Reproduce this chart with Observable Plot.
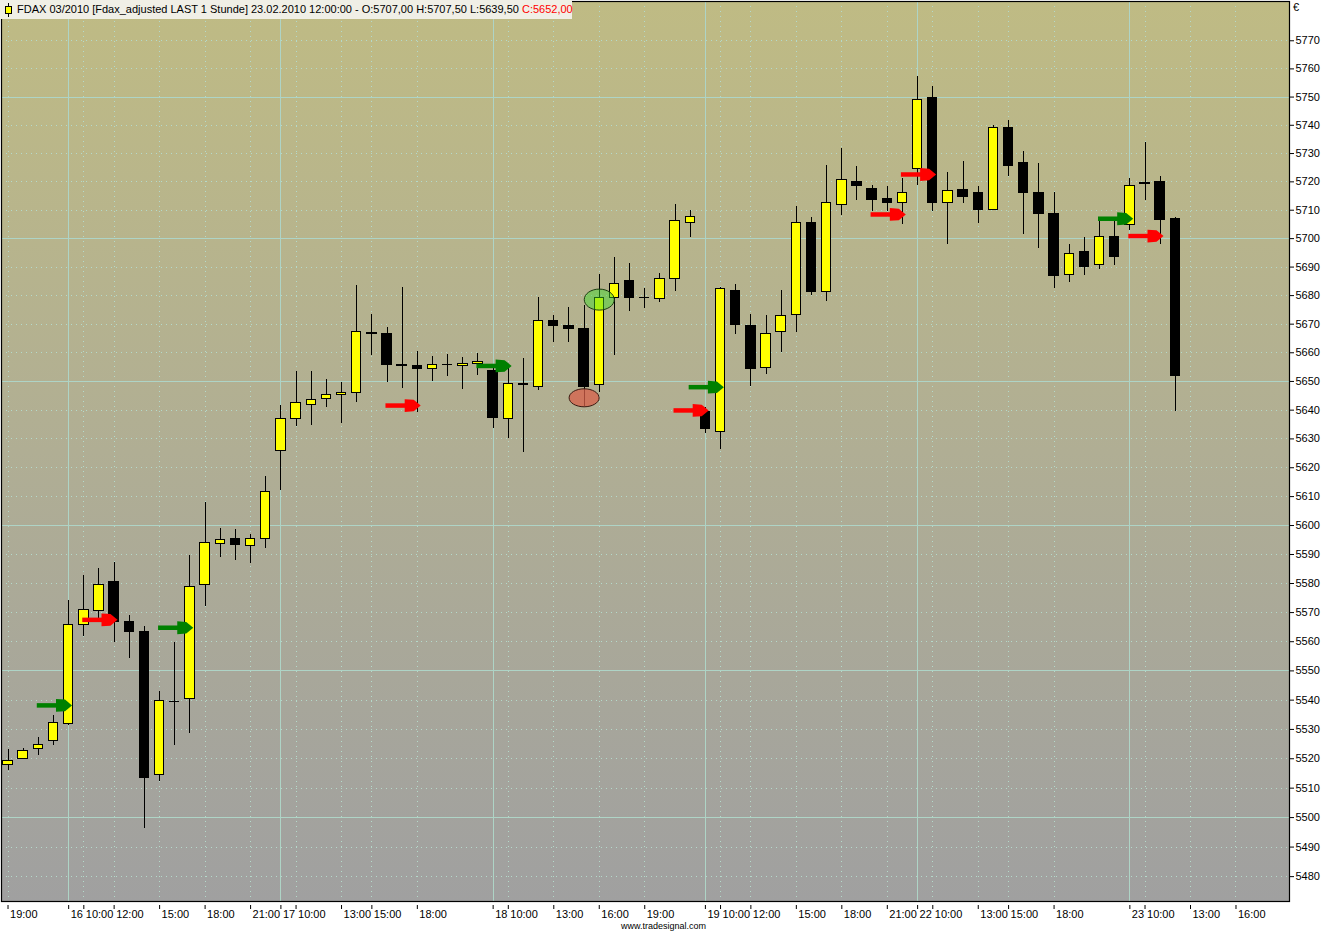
<!DOCTYPE html>
<html><head><meta charset="utf-8">
<script src="https://cdn.jsdelivr.net/npm/d3@7"></script>
<script src="https://cdn.jsdelivr.net/npm/@observablehq/plot@0.6"></script>
<style>
body{margin:0;background:#fff;}
#wrap{position:relative;width:1331px;height:933px;font-family:"Liberation Sans",Arial,sans-serif;color:#000;}
#title{position:absolute;left:0;top:0;height:19px;width:572px;background:#f0efe6;font-size:11px;line-height:19px;white-space:nowrap;}
#title svg{position:absolute;left:4px;top:3px;}
#title span.t{position:absolute;left:17px;top:0;}
#euro{position:absolute;left:1293px;top:1px;font-size:11px;}
#foot{position:absolute;left:621px;top:921px;font-size:9px;}
</style></head>
<body><div id="wrap"></div>
<script>
// ---- data ----
const openVals  = [5518,5520,5523.4,5526.2,5532,5565.8,5570.6,5580.5,5566.9,5563.2,5514.4,5539.5,5540.3,5579.4,5593.5,5595.5,5593,5595.5,
  5625.7,5637,5641.9,5644,5645.4,5646.1,5667,5666.5,5655.6,5655.3,5654.2,5655.9,5655.3,5656,
  5653.6,5636.8,5649,5648.1,5671.1,5669.5,5668.4,5648.6,5679.2,5685,5679.3,5678.7,5685.7,5705.6,
  5639.4,5632.4,5681.7,5669.4,5654.6,5667.3,5673.2,5705.6,5681.2,5711.9,5719.8,5717.6,5713.8,5712.7,
  5724.7,5749.8,5712.4,5717.3,5715.9,5709.9,5739.2,5726.5,5715.9,5708.8,5687.3,5695.3,5690.8,5700.4,
  5704.9,5719.5,5719.8,5707];
const highVals  = [5523.3,5523.6,5527.4,5534.9,5574.1,5582.9,5585.2,5587.3,5569,5565.2,5543.1,5559.8,5589.7,5608,5599,5598.5,5597,5617,
  5641.7,5653.6,5653.3,5650.8,5649.8,5683.5,5673.3,5668.7,5682.7,5660.6,5658.8,5659.3,5658.5,5659.6,
  5655.5,5654.5,5658.1,5679.3,5672.9,5675.8,5676.5,5687.4,5693.3,5691.3,5682.5,5687.6,5712.1,5709.9,
  5641,5682.9,5683.9,5673.4,5673,5681.8,5711.4,5707.4,5725.9,5731.9,5725.5,5718.8,5718.5,5721.2,
  5757.3,5753.8,5723.3,5727.2,5718.5,5739.8,5741.8,5730.8,5726.6,5716.4,5698,5700.4,5705.9,5705.9,
  5721.2,5733.9,5722,5707.5];
const lowVals   = [5516,5519.6,5521,5524.4,5531.5,5561.8,5567.8,5559.9,5554.4,5496.4,5512.2,5524.5,5528.5,5572,5589,5588,5587,5592,
  5612.2,5634.4,5634.7,5641,5635.4,5642.5,5659,5649.5,5647.4,5639.3,5649.9,5651.6,5647.1,5651.9,
  5633.7,5630,5625.2,5647,5663.6,5663.6,5641.3,5646.3,5659,5674.5,5675.6,5677.7,5681.6,5700.5,
  5631.9,5626.3,5666.4,5648.4,5652.3,5660.1,5667.1,5680,5678,5708.2,5713.5,5709.4,5709.4,5704.9,
  5718.8,5709.6,5698.1,5712.4,5705.2,5709.9,5721.8,5701.5,5696.4,5682.6,5684.7,5686.9,5689.3,5690.6,
  5702.7,5713.5,5698.1,5639.5];
const closeVals = [5519.2,5522.6,5524.6,5532.1,5565.8,5570.9,5579.4,5566.7,5563.3,5513.6,5539.6,5539.2,5578.7,5593.8,5595,5593.3,5595.3,5611.5,
  5637,5642.6,5643.7,5645.4,5646.1,5667.3,5666.6,5655.6,5655.3,5654.2,5655.6,5655.7,5656.1,5656.8,
  5637.2,5649,5648.7,5671.1,5669.2,5668.2,5648.1,5679.3,5684.2,5679.1,5679.1,5685.9,5706.3,5707.7,
  5633.3,5682.4,5669.6,5654.5,5666.5,5672.9,5705.6,5681.2,5712.4,5720.8,5718.6,5713.6,5712.6,5715.9,
  5749.1,5712.7,5716.8,5714.7,5710.1,5739.2,5725.6,5716.1,5708.7,5686.9,5694.6,5690,5700.4,5693.5,
  5718.6,5719.3,5706.6,5652];

// bar index of each time-axis tick and its label
const tickIdx    = [0,4,5,7,10,13,16,18,19,22,24,27,32,33,36,39,42,46,47,49,52,55,58,60,61,64,66,69,74,75,78,81];
const tickLabels = ["19:00","16","10:00","12:00","15:00","18:00","21:00","17","10:00","13:00","15:00","18:00",
  "18","10:00","13:00","16:00","19:00","19","10:00","12:00","15:00","18:00","21:00","22","10:00","13:00","15:00","18:00",
  "23","10:00","13:00","16:00"];

// signal arrows
const arrowIdx   = [4,7,12,27,33,46,47,59,61,74,76];
const arrowPrice = [5538.2,5567.5,5564.8,5641.6,5655.4,5639.9,5648,5708.5,5722.6,5707,5700.9];
const arrowSide  = ["buy","sell","buy","sell","buy","sell","buy","sell","sell","buy","sell"];

// highlighted bars (ellipses)
const markIdx   = [38,39];
const markPrice = [5644.3,5678.6];
const markSide  = ["low","high"];

const yTicks = d3.range(5480, 5771, 10);

// ---- derived tables ----
const candles = openVals.map((o, i) => ({i, open: o, high: highVals[i], low: lowVals[i], close: closeVals[i]}));
const upBars = candles.filter(d => d.close >= d.open);
const downBars = candles.filter(d => d.close < d.open);
const ticks = tickIdx.map((i, k) => ({i, label: tickLabels[k], day: /^\d+$/.test(tickLabels[k])}));
const arrows = arrowIdx.map((i, k) => ({i, price: arrowPrice[k], side: arrowSide[k]}));
const buys = arrows.filter(d => d.side === "buy");
const sells = arrows.filter(d => d.side === "sell");
const marks = markIdx.map((i, k) => ({i, price: markPrice[k], side: markSide[k]}));

const majorC = "#aed4c6", minorC = "#b4dacb";
const GREEN = "#008000", RED = "#ff0000";

const arrowHead = {draw(ctx) {
  ctx.moveTo(0, 0); ctx.lineTo(-7, -5.8); ctx.lineTo(-16, -6.4);
  ctx.lineTo(-16, 6.4); ctx.lineTo(-7, 5.8); ctx.closePath();
}};
function ellipse(rx, ry) {
  const k = 0.5523;
  return {draw(ctx) {
    ctx.moveTo(rx, 0);
    ctx.bezierCurveTo(rx, ry * k, rx * k, ry, 0, ry);
    ctx.bezierCurveTo(-rx * k, ry, -rx, ry * k, -rx, 0);
    ctx.bezierCurveTo(-rx, -ry * k, -rx * k, -ry, 0, -ry);
    ctx.bezierCurveTo(rx * k, -ry, rx, -ry * k, rx, 0);
    ctx.closePath();
  }};
}
const ns = "http://www.w3.org/2000/svg";

const chart = Plot.plot({
  width: 1331, height: 933,
  marginLeft: 1, marginRight: 42, marginTop: 1, marginBottom: 32,
  style: {fontFamily: "'Liberation Sans', Arial, sans-serif", fontSize: "11px", background: "transparent", color: "black"},
  x: {type: "linear", domain: [-0.43, 84.53]},
  y: {type: "log", domain: [5471.6, 5784.0]},
  marks: [
    () => {
      const defs = document.createElementNS(ns, "defs");
      defs.innerHTML = '<linearGradient id="bgGrad" x1="0" y1="0" x2="0" y2="1">' +
        '<stop offset="0" stop-color="#bfbb84"/><stop offset="0.5" stop-color="#b0ae94"/><stop offset="1" stop-color="#a0a0a0"/></linearGradient>';
      return defs;
    },
    Plot.frame({fill: "url(#bgGrad)"}),
    Plot.ruleY(yTicks.filter(v => v % 50 !== 0), {stroke: minorC, strokeDasharray: "1,4", shapeRendering: "crispEdges"}),
    Plot.ruleX(ticks.filter(d => !d.day), {x: "i", stroke: minorC, strokeDasharray: "1,4", shapeRendering: "crispEdges"}),
    Plot.ruleY(yTicks.filter(v => v % 50 === 0), {stroke: majorC, shapeRendering: "crispEdges"}),
    Plot.ruleX(ticks.filter(d => d.day), {x: "i", stroke: majorC, shapeRendering: "crispEdges"}),
    // wicks
    Plot.ruleX(candles, {x: "i", y1: "low", y2: "high", stroke: "black", strokeWidth: 1, shapeRendering: "crispEdges"}),
    // bodies
    Plot.rect(upBars, {x1: d => d.i - 0.31, x2: d => d.i + 0.31, y1: "open", y2: "close", fill: "#ffff00", stroke: "black", strokeWidth: 1, shapeRendering: "crispEdges"}),
    Plot.rect(downBars, {x1: d => d.i - 0.31, x2: d => d.i + 0.31, y1: "open", y2: "close", fill: "black", stroke: "black", strokeWidth: 1, shapeRendering: "crispEdges"}),
    // ellipses
    Plot.dot(marks.filter(d => d.side === "low"), {x: "i", y: "price", symbol: ellipse(15, 9), fill: "#d8604a", fillOpacity: 0.75, stroke: "#3a1810", strokeWidth: 1}),
    Plot.dot(marks.filter(d => d.side === "high"), {x: "i", y: "price", symbol: ellipse(15, 10.5), fill: "#3cdc28", fillOpacity: 0.45, stroke: "#1a3a10", strokeWidth: 1}),
    // arrows
    Plot.ruleY(buys, {y: "price", x1: d => d.i - 2.07, x2: d => d.i - 0.7, stroke: GREEN, strokeWidth: 4.5}),
    Plot.dot(buys, {x: d => d.i + 0.22, y: "price", symbol: arrowHead, fill: GREEN}),
    Plot.ruleY(sells, {y: "price", x1: d => d.i - 2.07, x2: d => d.i - 0.7, stroke: RED, strokeWidth: 4.5}),
    Plot.dot(sells, {x: d => d.i + 0.22, y: "price", symbol: arrowHead, fill: RED}),
    // axes
    Plot.axisY({ticks: yTicks, anchor: "right", tickSize: 4, tickPadding: 2, tickFormat: d => String(d), label: null}),
    Plot.axisX({ticks: tickIdx, anchor: "bottom", tickSize: 4, dy: 4, tickFormat: () => "", label: null}),
    Plot.text(ticks, {x: "i", text: "label", frameAnchor: "bottom", dy: 9, dx: 2, textAnchor: "start", lineAnchor: "top"}),
    Plot.frame({stroke: "black", strokeWidth: 1.2})
  ]
});

const wrap = document.getElementById("wrap");
wrap.appendChild(chart);

const last = candles[candles.length - 1];
const de = v => v.toFixed(2).replace(".", ",");
const title = document.createElement("div");
title.id = "title";
title.innerHTML = '<svg width="10" height="14"><line x1="4.5" y1="0" x2="4.5" y2="14" stroke="black"/><rect x="1.5" y="3.5" width="6" height="7" fill="#ffff00" stroke="black"/></svg>' +
  '<span class="t">FDAX 03/2010 [Fdax_adjusted LAST 1 Stunde] 23.02.2010 12:00:00 - O:' + de(last.open) +
  ' H:' + de(last.high) + ' L:' + de(last.low) + ' <span style="color:#ff0000">C:' + de(last.close) + '</span></span>';
wrap.appendChild(title);
const euro = document.createElement("div"); euro.id = "euro"; euro.textContent = "€"; wrap.appendChild(euro);
const foot = document.createElement("div"); foot.id = "foot"; foot.textContent = "www.tradesignal.com"; wrap.appendChild(foot);
</script>
</body></html>
